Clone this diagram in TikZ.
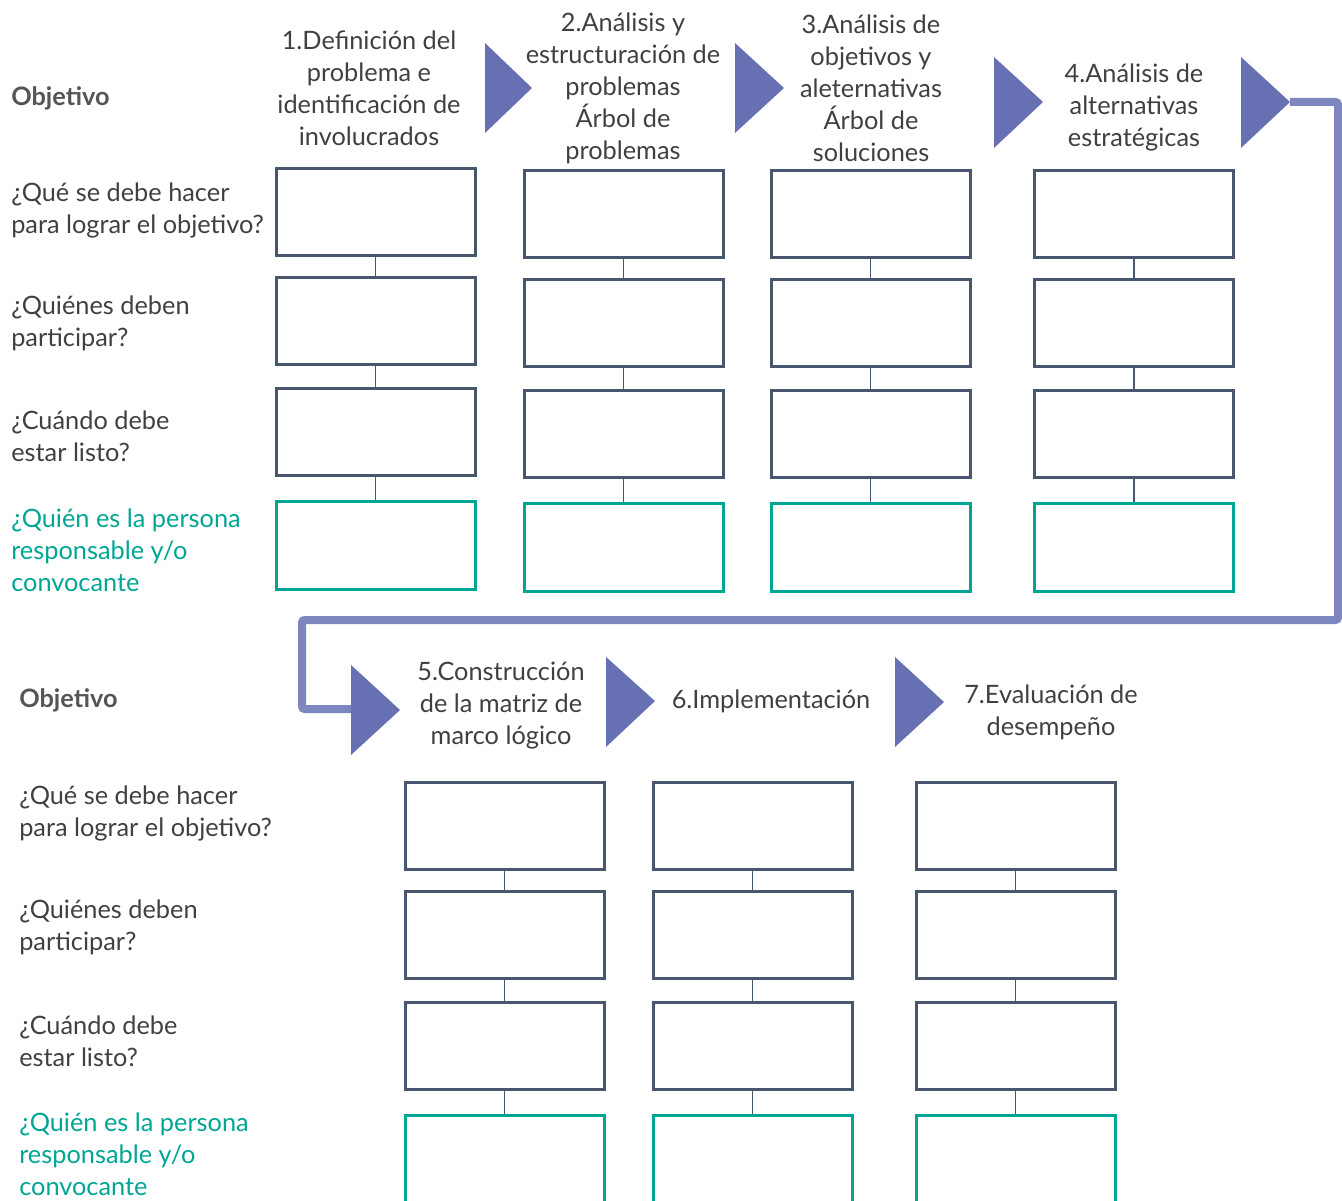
\documentclass[tikz,border=0pt]{standalone}
\usepackage{fontspec}
\setmainfont{Lato}
\usetikzlibrary{positioning}
\definecolor{slate}{HTML}{48566E}
\definecolor{respteal}{HTML}{00A693}
\definecolor{chevron}{HTML}{6670B3}
\definecolor{loopblue}{HTML}{7E86C0}
\definecolor{txt}{HTML}{404040}
\definecolor{objgray}{HTML}{555555}

\begin{document}
\begin{tikzpicture}[
  x=0.75pt, y=-0.75pt,
  font=\fontsize{19}{24}\selectfont, text=txt,
  task/.style={draw=slate, line width=2.25pt, minimum width=149.25pt,
               minimum height=65.25pt, inner sep=0pt},
  resp/.style={task, draw=respteal},
  link/.style={draw=slate, line width=1.1pt},
  chev/.style={fill=chevron},
  loopline/.style={draw=loopblue, line width=6pt, rounded corners=2pt},
  rowlabel/.style={anchor=west, align=left, inner sep=0pt},
  objlabel/.style={rowlabel, font=\fontsize{19}{24}\selectfont\bfseries, text=objgray},
  stephead/.style={align=center, inner sep=0pt}
]
\useasboundingbox (0,0) rectangle (1342,1201);

% Row labels, top block
\node[objlabel] (obj1) at (11,98) {Objetivo};
\node[rowlabel] (qhacer1) at (11,210) {¿Qué se debe hacer\\para lograr el objetivo?};
\node[rowlabel] (qquienes1) at (11,323) {¿Quiénes deben\\participar?};
\node[rowlabel] (qcuando1) at (11,436) {¿Cuándo debe\\estar listo?};
\node[rowlabel, text=respteal] (qresp1) at (11,550) {¿Quién es la persona\\responsable y/o\\convocante};

% Row labels, bottom block
\node[objlabel] (obj2) at (19,700) {Objetivo};
\node[rowlabel] (qhacer2) at (19,813) {¿Qué se debe hacer\\para lograr el objetivo?};
\node[rowlabel] (qquienes2) at (19,927) {¿Quiénes deben\\participar?};
\node[rowlabel] (qcuando2) at (19,1041) {¿Cuándo debe\\estar listo?};
\node[rowlabel, text=respteal] (qresp2) at (19,1154) {¿Quién es la persona\\responsable y/o\\convocante};

% Step headings
\node[stephead] (head1) at (369,88) {1.Definición del\\problema e\\identificación de\\involucrados};
\node[stephead] (head2) at (623,88) {2.Análisis y\\estructuración de\\problemas\\Árbol de\\problemas};
\node[stephead] (head3) at (871,88) {3.Análisis de\\objetivos y\\aleternativas\\Árbol de\\soluciones};
\node[stephead] (head4) at (1134,107) {4.Análisis de\\alternativas\\estratégicas};
\node[stephead] (head5) at (501,706) {5.Construcción\\de la matriz de\\marco lógico};
\node[stephead] (head6) at (771,701) {6.Implementación};
\node[stephead] (head7) at (1051,712) {7.Evaluación de\\desempeño};

% Loop from step 4 down to step 5
\coordinate (tip4) at (1290,102);
\coordinate (base5) at (351,709);
\draw[loopline] (tip4) -- (1338,102) -- (1338,620) -- (302,620) |- (base5);

% Chevrons
\fill[chev] (485,43) -- (532,88) -- (485,133) -- cycle;
\fill[chev] (735,43) -- (784,88) -- (735,133) -- cycle;
\fill[chev] (994,57) -- (1043,102) -- (994,148) -- cycle;
\fill[chev] (1241,57) -- (1290,102) -- (1241,148) -- cycle;
\fill[chev] (351,665) -- (400,710) -- (351,755) -- cycle;
\fill[chev] (606,657) -- (655,701) -- (606,747) -- cycle;
\fill[chev] (895,657) -- (944,702) -- (895,747) -- cycle;

% Columns of boxes
\foreach \n/\cx/\cy in {1/375.5/212.5, 2/623.5/214.5, 3/870.5/214.5, 4/1134/214.5,
                        5/504.5/825.5, 6/752.5/825.5, 7/1015.5/825.5} {
  \node[task] (hacer\n) at (\cx,\cy) {};
  \node[task, below=14.25pt of hacer\n] (quienes\n) {};
  \node[task, below=15.75pt of quienes\n] (cuando\n) {};
  \node[resp, below=17.25pt of cuando\n] (resp\n) {};
  \draw[link] (hacer\n) -- (quienes\n);
  \draw[link] (quienes\n) -- (cuando\n);
  \draw[link] (cuando\n) -- (resp\n);
}
\end{tikzpicture}
\end{document}
